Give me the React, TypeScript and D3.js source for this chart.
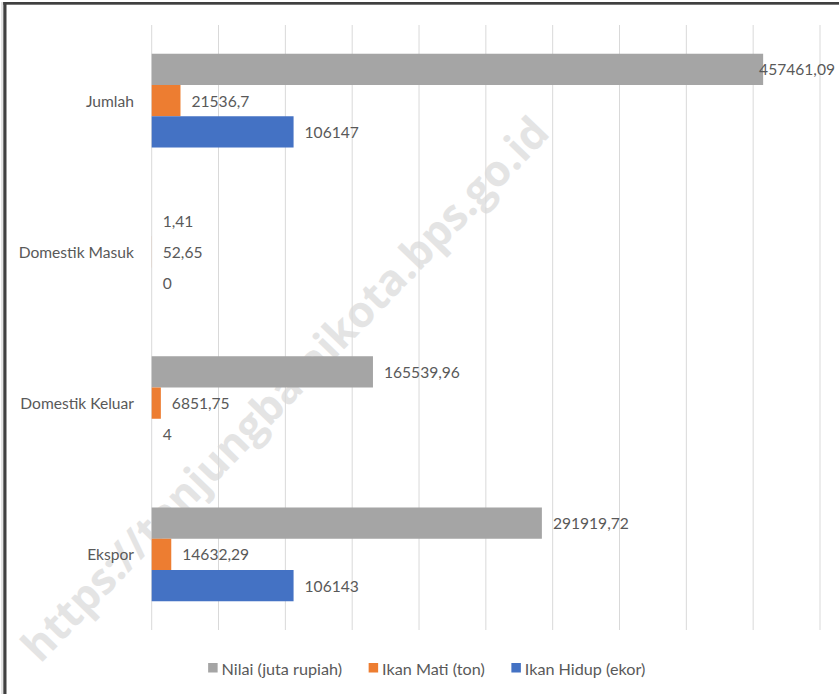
import React, { useEffect, useRef } from "react";
import * as d3 from "d3";

const categories = ["Jumlah", "Domestik Masuk", "Domestik Keluar", "Ekspor"];
const nilai = [457461.09, 1.41, 165539.96, 291919.72];
const ikanMati = [21536.7, 52.65, 6851.75, 14632.29];
const ikanHidup = [106147, 0, 4, 106143];
const seriesNames = ["Nilai (juta rupiah)", "Ikan Mati (ton)", "Ikan Hidup (ekor)"];
const seriesColors = ["#a5a5a5", "#ed7d31", "#4472c4"];
const xTicks = [0, 50000, 100000, 150000, 200000, 250000, 300000, 350000, 400000, 450000, 500000];
const watermark = "https://tanjungbalaikota.bps.go.id";

const W = 839;
const H = 694;
const FONT = "Lato, 'Open Sans', sans-serif";
const FS = 15.6;
const TEXT = "#595959";

export default function App() {
  const ref = useRef<SVGSVGElement>(null);

  useEffect(() => {
    const svg = d3.select(ref.current);
    svg.selectAll("*").remove();

    const plot = { left: 151.7, right: 820, top: 25, bottom: 630 };
    const x = d3.scaleLinear().domain([0, 500000]).range([plot.left, plot.right]);
    const y = d3
      .scaleBand<string>()
      .domain(categories)
      .range([plot.top, plot.bottom])
      .paddingInner(0.38)
      .paddingOuter(0.19);
    const ys = d3.scaleBand<string>().domain(seriesNames).range([0, y.bandwidth()]);

    svg.append("rect").attr("width", W).attr("height", H).attr("fill", "#fff");

    // watermark
    svg
      .append("text")
      .attr("transform", "translate(284,388) rotate(-46)")
      .attr("text-anchor", "middle")
      .attr("dominant-baseline", "central")
      .attr("font-family", "'Open Sans', 'Liberation Sans', sans-serif")
      .attr("font-weight", 700)
      .attr("font-size", 43)
      .attr("fill", "#e4e4e4")
      .text(watermark);

    // gridlines
    svg
      .append("g")
      .selectAll("line")
      .data(xTicks)
      .join("line")
      .attr("x1", (d) => x(d))
      .attr("x2", (d) => x(d))
      .attr("y1", plot.top)
      .attr("y2", plot.bottom)
      .attr("stroke", "#d9d9d9")
      .attr("stroke-width", 1);

    const data = [nilai, ikanMati, ikanHidup];
    const rows = categories.flatMap((c, i) =>
      seriesNames.map((s, j) => ({ c, s, j, v: data[j][i] }))
    );

    svg
      .append("g")
      .selectAll("rect")
      .data(rows)
      .join("rect")
      .attr("x", x(0))
      .attr("y", (d) => (y(d.c) as number) + (ys(d.s) as number))
      .attr("width", (d) => x(d.v) - x(0))
      .attr("height", ys.bandwidth())
      .attr("fill", (d) => seriesColors[d.j]);

    const fmt = (v: number) => String(v).replace(".", ",");
    const labels = svg
      .append("g")
      .selectAll("text")
      .data(rows)
      .join("text")
      .attr("x", (d) => x(d.v) + 11)
      .attr("y", (d) => (y(d.c) as number) + (ys(d.s) as number) + ys.bandwidth() / 2)
      .attr("dominant-baseline", "central")
      .attr("font-family", FONT)
      .attr("font-size", FS)
      .attr("fill", TEXT)
      .text((d) => fmt(d.v));
    labels.each(function (d) {
      const el = this as SVGTextElement;
      const w = el.getComputedTextLength();
      if (x(d.v) + 11 + w > 835) {
        d3.select(el).attr("x", 835).attr("text-anchor", "end");
      }
    });

    // category labels
    svg
      .append("g")
      .selectAll("text")
      .data(categories)
      .join("text")
      .attr("x", plot.left - 17.7)
      .attr("y", (d) => (y(d) as number) + y.bandwidth() / 2)
      .attr("text-anchor", "end")
      .attr("dominant-baseline", "central")
      .attr("font-family", FONT)
      .attr("font-size", FS)
      .attr("fill", TEXT)
      .text((d) => d);

    // legend
    const lg = svg.append("g");
    const items = seriesNames.map((s, i) => {
      const g = lg.append("g");
      g.append("rect")
        .attr("x", 0)
        .attr("y", 663)
        .attr("width", 9.5)
        .attr("height", 9.5)
        .attr("fill", seriesColors[i]);
      const t = g
        .append("text")
        .attr("x", 13.4)
        .attr("y", 668)
        .attr("dominant-baseline", "central")
        .attr("font-family", FONT)
        .attr("font-size", 16.2)
        .attr("fill", TEXT)
        .text(s);
      const w = 13.4 + (t.node() as SVGTextElement).getComputedTextLength();
      return { g, w };
    });
    const gap = 26.6;
    const total = d3.sum(items, (d) => d.w) + gap * (items.length - 1);
    let cx = 426.7 - total / 2;
    items.forEach((it) => {
      it.g.attr("transform", `translate(${cx},0)`);
      cx += it.w + gap;
    });

    // frame
    svg.append("rect").attr("x", 1.5).attr("y", 2).attr("width", 1).attr("height", H).attr("fill", "#c8c8c8");
    svg.append("rect").attr("x", 3.3).attr("y", 2).attr("width", 3.2).attr("height", H).attr("fill", "#404040");
    svg.append("rect").attr("x", 3.3).attr("y", 2).attr("width", W).attr("height", 2.7).attr("fill", "#404040");
  }, []);

  return (
    <svg
      ref={ref}
      width={W}
      height={H}
      style={{ position: "absolute", left: 0, top: 0, display: "block" }}
    />
  );
}
